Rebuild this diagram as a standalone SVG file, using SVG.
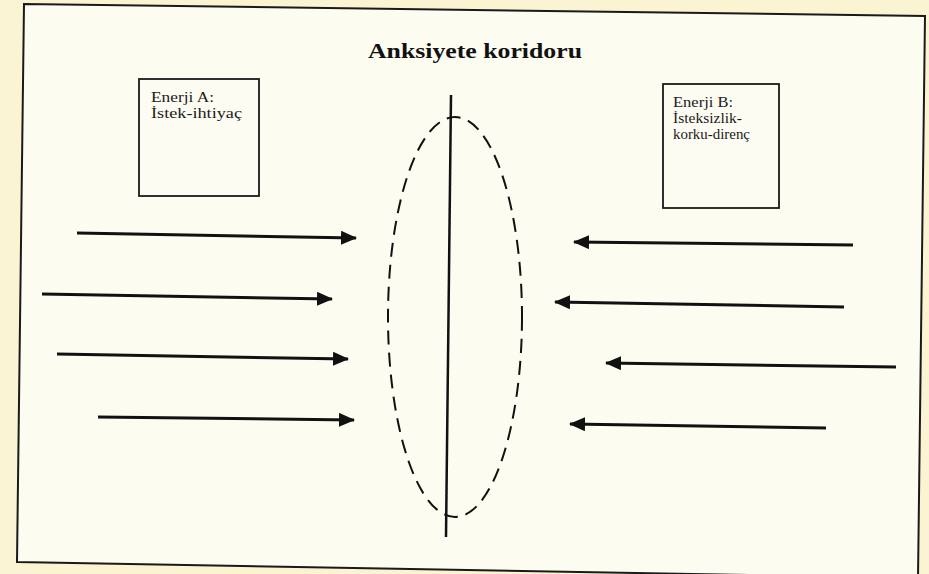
<svg xmlns="http://www.w3.org/2000/svg" width="929" height="574" viewBox="0 0 929 574">
  <defs>
    <marker id="ah" viewBox="0 0 16 14" refX="15" refY="7" markerWidth="16" markerHeight="14" markerUnits="userSpaceOnUse" orient="auto">
      <path d="M0,0 L16,7 L0,14 Z" fill="#111"/>
    </marker>
  </defs>
  <style>
    .frame { fill: #fdfcf1; stroke: #1a1a1a; stroke-width: 2; }
    .box { fill: #fdfcf3; stroke: #1a1a1a; stroke-width: 1.8; }
    .lbl { font-family: "Liberation Serif", "DejaVu Serif", serif; font-size: 14px; fill: #1a1a1a; }
    .title { font-family: "Liberation Serif", "DejaVu Serif", serif; font-size: 21px; font-weight: bold; fill: #111; }
    .arrow { stroke: #111; stroke-width: 3; fill: none; marker-end: url(#ah); }
    .axis { stroke: #111; stroke-width: 2.5; fill: none; }
    .oval { stroke: #111; stroke-width: 2; fill: none; stroke-dasharray: 14 8; }
  </style>
  <rect x="0" y="0" width="929" height="574" fill="#faf4d2"/>
  <polygon class="frame" points="24,4 925,16 918,578 17,562"/>
  <text class="title" x="475" y="58" text-anchor="middle" textLength="214" lengthAdjust="spacingAndGlyphs">Anksiyete koridoru</text>
  <g id="enerjiA">
    <rect class="box" x="139" y="79" width="120" height="117"/>
    <text class="lbl" x="151" y="102" textLength="63" lengthAdjust="spacingAndGlyphs">Enerji A:</text>
    <text class="lbl" x="151" y="118" textLength="91" lengthAdjust="spacingAndGlyphs">İstek-ihtiyaç</text>
  </g>
  <g id="enerjiB">
    <rect class="box" x="663" y="84" width="116" height="124"/>
    <text class="lbl" x="673" y="107" textLength="60" lengthAdjust="spacingAndGlyphs">Enerji B:</text>
    <text class="lbl" x="673" y="123" textLength="69" lengthAdjust="spacingAndGlyphs">İsteksizlik-</text>
    <text class="lbl" x="673" y="139" textLength="77" lengthAdjust="spacingAndGlyphs">korku-direnç</text>
  </g>
  <g id="koridor">
    <line class="axis" x1="451" y1="95" x2="446" y2="537"/>
    <ellipse class="oval" cx="455" cy="317" rx="67" ry="200"/>
  </g>
  <g id="connectors">
    <line class="arrow" x1="77" y1="233" x2="356" y2="238"/>
    <line class="arrow" x1="42" y1="294" x2="332" y2="299"/>
    <line class="arrow" x1="57" y1="354" x2="348" y2="359"/>
    <line class="arrow" x1="98" y1="417" x2="354" y2="420"/>
    <line class="arrow" x1="853" y1="245" x2="574" y2="242"/>
    <line class="arrow" x1="844" y1="307" x2="555" y2="302"/>
    <line class="arrow" x1="896" y1="367" x2="606" y2="363"/>
    <line class="arrow" x1="826" y1="428" x2="570" y2="424"/>
  </g>
</svg>
